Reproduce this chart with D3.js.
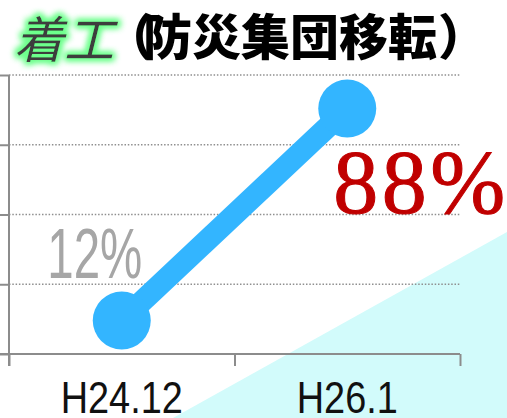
<!DOCTYPE html>
<html>
<head>
<meta charset="utf-8">
<script src="https://cdn.jsdelivr.net/npm/d3@7"></script>
<style>
  body { margin: 0; background: #fff; }
  svg { display: block; }
  .half { font-feature-settings: "halt" 1; }
</style>
</head>
<body>
<script>
var categories = ['H24.12', 'H26.1'];
var values = [12, 88];
var valueLabels = ['12%', '88%'];
var yTicks = [0, 25, 50, 75, 100];
var titleMain = '着工';
var titleSub = '防災集団移転';

var WIDTH = 507, HEIGHT = 418;
var LEFT = 9, RIGHT = 460, TOP = 75, BOTTOM = 354;

var translate = function (x, y) { return 'translate(' + x + ',' + y + ')'; };

var svg = d3.select('body').append('svg')
    .attr('width', WIDTH)
    .attr('height', HEIGHT);

var defs = svg.append('defs');
var glow = defs.append('filter').attr('id', 'glow')
    .attr('x', '-30%').attr('y', '-40%').attr('width', '160%').attr('height', '180%');
glow.append('feMorphology').attr('in', 'SourceAlpha').attr('operator', 'dilate').attr('radius', 2).attr('result', 'd');
glow.append('feGaussianBlur').attr('in', 'd').attr('stdDeviation', 3).attr('result', 'b');
glow.append('feFlood').attr('flood-color', '#6dff8c');
glow.append('feComposite').attr('in2', 'b').attr('operator', 'in').attr('result', 'g');
var merge = glow.append('feMerge');
merge.append('feMergeNode').attr('in', 'g');
merge.append('feMergeNode').attr('in', 'g');
merge.append('feMergeNode').attr('in', 'SourceGraphic');

// decorative light cyan wedge in the lower right
svg.append('path')
    .attr('d', 'M173,' + HEIGHT + 'L' + WIDTH + ',232L' + WIDTH + ',' + HEIGHT + 'Z')
    .attr('fill', '#d2fbfb');

var xScale = d3.scaleBand().domain(categories).range([LEFT, RIGHT]);
var xEdge = d3.scaleLinear().domain([0, categories.length]).range([LEFT, RIGHT]);
var yScale = d3.scaleLinear().domain([0, 100]).range([BOTTOM, TOP]);

// dotted gridlines
svg.append('g').selectAll('line')
    .data(yTicks.slice(1))
    .enter().append('line')
    .attr('x1', LEFT).attr('x2', RIGHT)
    .attr('y1', function (d) { return yScale(d); })
    .attr('y2', function (d) { return yScale(d); })
    .attr('stroke', '#8f8f8f')
    .attr('stroke-width', 1.3)
    .attr('stroke-dasharray', '1.5,1.8');

// y axis
var yAxis = d3.axisLeft(yScale).tickValues(yTicks).tickSize(9).tickFormat('');
var gy = svg.append('g').attr('transform', translate(LEFT, 0)).call(yAxis);
gy.select('.domain').attr('d', 'M0,' + TOP + 'V' + (BOTTOM + 12));

// x axis ticks
var xAxis = d3.axisBottom(xEdge).tickValues(d3.range(categories.length + 1)).tickSize(12).tickFormat('');
var gx = svg.append('g').attr('transform', translate(0, BOTTOM)).call(xAxis);
gx.select('.domain').attr('d', 'M0,0H' + RIGHT);

svg.selectAll('.domain, .tick line')
    .attr('stroke', '#8c8c8c')
    .attr('stroke-width', 2);

// category labels
var xLabels = d3.axisBottom(xScale).tickSize(0).tickPadding(0);
var gl = svg.append('g').attr('transform', translate(0, BOTTOM)).call(xLabels);
gl.select('.domain').remove();
gl.selectAll('text')
    .attr('y', 59).attr('dy', 0)
    .attr('font-family', 'Liberation Sans, Arial, sans-serif')
    .attr('font-size', 44)
    .attr('fill', '#111')
    .each(function () {
        var t = d3.select(this);
        t.attr('textLength', this.getComputedTextLength() * 0.86)
         .attr('lengthAdjust', 'spacingAndGlyphs');
    });

// line + points
var pts = categories.map(function (c, i) { return [xScale(c) + xScale.bandwidth() / 2, yScale(values[i])]; });
var line = d3.line();
svg.append('path')
    .attr('d', line(pts))
    .attr('stroke', '#33b5ff')
    .attr('stroke-width', 22)
    .attr('fill', 'none');
svg.append('g').selectAll('circle')
    .data(pts)
    .enter().append('circle')
    .attr('cx', function (d) { return d[0]; })
    .attr('cy', function (d) { return d[1]; })
    .attr('r', 29)
    .attr('fill', '#33b5ff');

// value labels
svg.append('text')
    .attr('x', pts[0][0] - 27).attr('y', pts[0][1] - 43)
    .attr('text-anchor', 'middle')
    .attr('font-family', 'Liberation Sans, Arial, sans-serif')
    .attr('font-size', 70)
    .attr('fill', '#a6a6a6')
    .attr('textLength', 95)
    .attr('lengthAdjust', 'spacingAndGlyphs')
    .text(valueLabels[0]);

svg.append('text')
    .attr('x', pts[1][0] - 14).attr('y', pts[1][1] + 105)
    .attr('font-family', 'Liberation Serif, Times New Roman, serif')
    .attr('font-size', 90)
    .attr('fill', '#c00000')
    .attr('stroke', '#c00000')
    .attr('stroke-width', 1)
    .attr('textLength', 172)
    .attr('lengthAdjust', 'spacing')
    .text(valueLabels[1]);

// title
svg.append('text')
    .attr('x', 14).attr('y', 58)
    .attr('font-family', 'Noto Sans CJK JP, sans-serif')
    .attr('font-size', 50)
    .attr('font-style', 'italic')
    .attr('fill', '#3c3c3c')
    .attr('filter', 'url(#glow)')
    .text(titleMain);

var sub = svg.append('text')
    .attr('y', 55)
    .attr('font-family', 'Noto Sans CJK JP, sans-serif')
    .attr('font-weight', 900)
    .attr('font-size', 49)
    .attr('fill', '#000');
sub.append('tspan').attr('class', 'half').attr('x', 129).text('（');
sub.append('tspan').attr('x', 143).text(titleSub);
sub.append('tspan').attr('class', 'half').attr('x', 438).text('）');
</script>
</body>
</html>
